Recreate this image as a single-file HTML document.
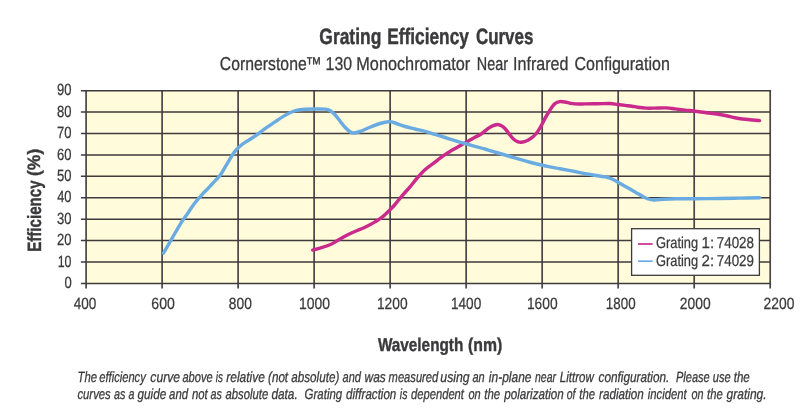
<!DOCTYPE html>
<html><head><meta charset="utf-8"><title>Grating Efficiency Curves</title>
<style>html,body{margin:0;padding:0;background:#fff;}svg{display:block;}text{font-family:"Liberation Sans",sans-serif;fill:#3a393b;text-rendering:geometricPrecision;}</style></head><body>
<svg width="800" height="416" viewBox="0 0 800 416">
<rect x="0" y="0" width="800" height="416" fill="#ffffff"/>
<rect x="86.10" y="90.65" width="684.10" height="192.75" fill="#fffbdb"/>
<path d="M86.10 89.90 V288.60 M162.11 90.65 V288.60 M238.12 90.65 V288.60 M314.13 90.65 V288.60 M390.14 90.65 V288.60 M466.16 90.65 V288.60 M542.17 90.65 V288.60 M618.18 90.65 V288.60 M694.19 90.65 V288.60 M770.20 89.90 V288.60" stroke="#4a4547" stroke-width="1.70" fill="none" stroke-linecap="butt"/>
<path d="M80.90 90.65 H771.05 M80.90 112.07 H770.20 M80.90 133.48 H770.20 M80.90 154.90 H770.20 M80.90 176.32 H770.20 M80.90 197.73 H770.20 M80.90 219.15 H770.20 M80.90 240.57 H770.20 M80.90 261.98 H770.20 M80.90 283.40 H771.05" stroke="#3f3b3d" stroke-width="1.50" fill="none" stroke-linecap="butt"/>
<path d="M312.75 250.10 C313.96 249.77 317.12 248.99 320.00 248.10 C322.88 247.21 327.08 246.00 330.00 244.75 C332.92 243.50 335.00 242.02 337.50 240.60 C340.00 239.18 342.50 237.60 345.00 236.25 C347.50 234.90 350.00 233.64 352.50 232.50 C355.00 231.36 357.50 230.48 360.00 229.40 C362.50 228.32 365.00 227.25 367.50 226.00 C370.00 224.75 372.50 223.42 375.00 221.90 C377.50 220.38 380.00 218.92 382.50 216.90 C385.00 214.88 387.92 211.87 390.00 209.80 C392.08 207.73 393.33 206.42 395.00 204.50 C396.67 202.58 398.33 200.30 400.00 198.30 C401.67 196.30 403.33 194.42 405.00 192.50 C406.67 190.58 408.33 188.77 410.00 186.80 C411.67 184.83 413.33 182.70 415.00 180.70 C416.67 178.70 418.33 176.62 420.00 174.80 C421.67 172.98 423.33 171.30 425.00 169.80 C426.67 168.30 428.33 167.08 430.00 165.80 C431.67 164.52 433.33 163.37 435.00 162.10 C436.67 160.83 438.33 159.45 440.00 158.20 C441.67 156.95 443.33 155.72 445.00 154.60 C446.67 153.48 448.33 152.50 450.00 151.50 C451.67 150.50 453.33 149.57 455.00 148.60 C456.67 147.63 458.33 146.65 460.00 145.70 C461.67 144.75 463.33 143.85 465.00 142.90 C466.67 141.95 468.33 140.93 470.00 140.00 C471.67 139.07 473.33 138.18 475.00 137.30 C476.67 136.42 478.33 135.75 480.00 134.70 C481.67 133.65 483.33 132.23 485.00 131.00 C486.67 129.77 488.33 128.30 490.00 127.30 C491.67 126.30 493.54 125.43 495.00 125.00 C496.46 124.57 497.50 124.48 498.75 124.70 C500.00 124.92 501.25 125.42 502.50 126.30 C503.75 127.18 505.00 128.55 506.25 130.00 C507.50 131.45 508.75 133.45 510.00 135.00 C511.25 136.55 512.50 138.20 513.75 139.30 C515.00 140.40 516.25 141.12 517.50 141.60 C518.75 142.08 519.79 142.30 521.25 142.20 C522.71 142.10 524.58 141.68 526.25 141.00 C527.92 140.32 529.58 139.35 531.25 138.10 C532.92 136.85 534.71 135.35 536.25 133.50 C537.79 131.65 539.04 129.52 540.50 127.00 C541.96 124.48 543.62 120.90 545.00 118.40 C546.38 115.90 547.58 113.90 548.75 112.00 C549.92 110.10 550.96 108.40 552.00 107.00 C553.04 105.60 554.08 104.40 555.00 103.60 C555.92 102.80 556.67 102.53 557.50 102.20 C558.33 101.87 558.75 101.63 560.00 101.60 C561.25 101.57 563.33 101.73 565.00 102.00 C566.67 102.27 568.33 102.88 570.00 103.20 C571.67 103.52 572.50 103.78 575.00 103.90 C577.50 104.02 581.25 103.93 585.00 103.90 C588.75 103.88 593.33 103.82 597.50 103.75 C601.67 103.68 606.67 103.38 610.00 103.50 C613.33 103.62 615.00 104.18 617.50 104.50 C620.00 104.82 622.58 105.12 625.00 105.40 C627.42 105.68 629.92 105.90 632.00 106.20 C634.08 106.50 635.12 106.88 637.50 107.20 C639.88 107.52 643.33 107.95 646.25 108.10 C649.17 108.25 651.67 108.13 655.00 108.10 C658.33 108.07 662.92 107.77 666.25 107.90 C669.58 108.03 671.88 108.53 675.00 108.90 C678.12 109.27 681.67 109.72 685.00 110.10 C688.33 110.48 691.67 110.80 695.00 111.20 C698.33 111.60 701.67 112.08 705.00 112.50 C708.33 112.92 712.08 113.33 715.00 113.75 C717.92 114.17 720.42 114.62 722.50 115.00 C724.58 115.38 725.42 115.54 727.50 116.00 C729.58 116.46 732.50 117.25 735.00 117.75 C737.50 118.25 739.58 118.62 742.50 119.00 C745.42 119.38 749.67 119.73 752.50 120.00 C755.33 120.27 758.33 120.50 759.50 120.60" stroke="#c92a8c" stroke-width="3.45" fill="none" stroke-linecap="round" stroke-linejoin="round"/>
<path d="M163.50 253.10 C164.17 251.96 166.00 248.85 167.50 246.25 C169.00 243.65 170.83 240.39 172.50 237.50 C174.17 234.61 175.83 231.72 177.50 228.90 C179.17 226.08 180.83 223.12 182.50 220.60 C184.17 218.07 186.25 215.55 187.50 213.75 C188.75 211.95 188.75 211.62 190.00 209.80 C191.25 207.98 193.33 204.93 195.00 202.80 C196.67 200.67 198.33 198.90 200.00 197.00 C201.67 195.10 203.33 193.17 205.00 191.40 C206.67 189.63 208.33 188.17 210.00 186.40 C211.67 184.63 213.38 182.57 215.00 180.80 C216.62 179.03 218.25 177.67 219.70 175.80 C221.15 173.93 222.33 171.85 223.70 169.60 C225.07 167.35 226.50 164.65 227.90 162.30 C229.30 159.95 230.83 157.43 232.10 155.50 C233.37 153.57 234.38 152.08 235.50 150.70 C236.62 149.32 237.22 148.58 238.80 147.20 C240.38 145.82 242.72 143.97 245.00 142.40 C247.28 140.83 250.00 139.40 252.50 137.75 C255.00 136.10 257.50 134.31 260.00 132.50 C262.50 130.69 265.00 128.67 267.50 126.90 C270.00 125.13 272.50 123.57 275.00 121.90 C277.50 120.23 280.00 118.43 282.50 116.90 C285.00 115.38 287.71 113.83 290.00 112.75 C292.29 111.67 293.75 110.98 296.25 110.40 C298.75 109.83 301.88 109.53 305.00 109.30 C308.12 109.07 311.67 109.03 315.00 109.00 C318.33 108.97 322.50 108.85 325.00 109.10 C327.50 109.35 328.33 109.56 330.00 110.50 C331.67 111.44 333.33 113.00 335.00 114.75 C336.67 116.50 338.33 118.92 340.00 121.00 C341.67 123.08 343.33 125.46 345.00 127.25 C346.67 129.04 348.54 130.79 350.00 131.75 C351.46 132.71 352.08 133.04 353.75 133.00 C355.42 132.96 357.29 132.46 360.00 131.50 C362.71 130.54 366.67 128.58 370.00 127.25 C373.33 125.92 377.50 124.33 380.00 123.50 C382.50 122.67 383.33 122.62 385.00 122.30 C386.67 121.98 388.33 121.48 390.00 121.60 C391.67 121.72 392.50 122.18 395.00 123.00 C397.50 123.82 401.67 125.50 405.00 126.50 C408.33 127.50 411.67 128.20 415.00 129.00 C418.33 129.80 421.67 130.40 425.00 131.30 C428.33 132.20 431.67 133.37 435.00 134.40 C438.33 135.43 441.67 136.47 445.00 137.50 C448.33 138.53 451.67 139.60 455.00 140.60 C458.33 141.60 461.67 142.55 465.00 143.50 C468.33 144.45 471.67 145.38 475.00 146.30 C478.33 147.22 482.50 148.28 485.00 149.00 C487.50 149.72 487.50 149.85 490.00 150.60 C492.50 151.35 496.67 152.52 500.00 153.50 C503.33 154.48 506.67 155.52 510.00 156.50 C513.33 157.48 516.67 158.44 520.00 159.40 C523.33 160.36 526.67 161.36 530.00 162.25 C533.33 163.14 536.67 163.97 540.00 164.75 C543.33 165.53 546.67 166.23 550.00 166.90 C553.33 167.57 556.67 168.13 560.00 168.75 C563.33 169.37 566.67 169.96 570.00 170.60 C573.33 171.24 577.50 172.07 580.00 172.60 C582.50 173.12 582.50 173.31 585.00 173.75 C587.50 174.19 591.67 174.72 595.00 175.25 C598.33 175.78 602.29 176.32 605.00 176.90 C607.71 177.48 609.17 177.92 611.25 178.75 C613.33 179.58 615.21 180.65 617.50 181.90 C619.79 183.15 622.08 184.58 625.00 186.25 C627.92 187.92 632.08 190.23 635.00 191.90 C637.92 193.57 640.42 195.11 642.50 196.25 C644.58 197.39 645.83 198.14 647.50 198.75 C649.17 199.36 650.42 199.78 652.50 199.90 C654.58 200.03 656.25 199.68 660.00 199.50 C663.75 199.32 669.17 198.93 675.00 198.80 C680.83 198.68 687.50 198.80 695.00 198.75 C702.50 198.70 712.50 198.61 720.00 198.50 C727.50 198.39 733.37 198.23 740.00 198.10 C746.63 197.97 756.50 197.77 759.80 197.70" stroke="#6aace2" stroke-width="3.45" fill="none" stroke-linecap="round" stroke-linejoin="round"/>
<rect x="631.6" y="228.7" width="127.8" height="46.6" fill="#ffffff" stroke="#3f3b3d" stroke-width="1.3"/>
<path d="M638 244 H652.6" stroke="#c92a8c" stroke-width="1.7"/>
<path d="M638 261.2 H652.6" stroke="#6aace2" stroke-width="1.7"/>
<g opacity="0.999">
<text transform="translate(319.32 43.70) scale(0.7818 1)" font-size="22.30" font-weight="bold" font-style="normal" stroke="#3a393b" stroke-width="0.45">Grating</text>
<text transform="translate(387.24 43.70) scale(0.7749 1)" font-size="22.30" font-weight="bold" font-style="normal" stroke="#3a393b" stroke-width="0.45">Efficiency</text>
<text transform="translate(475.94 43.70) scale(0.7593 1)" font-size="22.30" font-weight="bold" font-style="normal" stroke="#3a393b" stroke-width="0.45">Curves</text>
<text transform="translate(219.85 70.20) scale(0.8488 1)" font-size="18.60" font-weight="normal" font-style="normal" stroke="#3a393b" stroke-width="0.30">Cornerstone</text>
<text transform="translate(305.48 70.20) scale(0.8678 1)" font-size="18.60" font-weight="normal" font-style="normal" stroke="#3a393b" stroke-width="0.30">™</text>
<text transform="translate(325.62 70.20) scale(0.8522 1)" font-size="18.60" font-weight="normal" font-style="normal" stroke="#3a393b" stroke-width="0.30">130</text>
<text transform="translate(356.29 70.20) scale(0.8747 1)" font-size="18.60" font-weight="normal" font-style="normal" stroke="#3a393b" stroke-width="0.30">Monochromator</text>
<text transform="translate(476.84 70.20) scale(0.7740 1)" font-size="18.60" font-weight="normal" font-style="normal" stroke="#3a393b" stroke-width="0.30">Near</text>
<text transform="translate(513.09 70.20) scale(0.8637 1)" font-size="18.60" font-weight="normal" font-style="normal" stroke="#3a393b" stroke-width="0.30">Infrared</text>
<text transform="translate(574.54 70.20) scale(0.8618 1)" font-size="18.60" font-weight="normal" font-style="normal" stroke="#3a393b" stroke-width="0.30">Configuration</text>
<text transform="translate(377.90 350.50) scale(0.8284 1)" font-size="18.50" font-weight="bold" font-style="normal" stroke="#3a393b" stroke-width="0.40">Wavelength</text>
<text transform="translate(468.05 350.50) scale(0.8549 1)" font-size="18.50" font-weight="bold" font-style="normal" stroke="#3a393b" stroke-width="0.40">(nm)</text>
<text transform="translate(41.00 251.78) rotate(-90) scale(0.7877 1)" font-size="19.20" font-weight="bold" font-style="normal" stroke="#3a393b" stroke-width="0.40">Efficiency</text>
<text transform="translate(40.30 175.98) rotate(-90) scale(0.9786 1)" font-size="17.86" font-weight="bold" font-style="normal" stroke="#3a393b" stroke-width="0.40">(%)</text>
<text transform="translate(655.99 248.45) scale(0.8140 1)" font-size="15.80" font-weight="normal" font-style="normal" stroke="#3a393b" stroke-width="0.25">Grating</text>
<text transform="translate(701.61 248.45) scale(0.9524 1)" font-size="15.80" font-weight="normal" font-style="normal" stroke="#3a393b" stroke-width="0.25">1:</text>
<text transform="translate(716.76 248.45) scale(0.8471 1)" font-size="15.80" font-weight="normal" font-style="normal" stroke="#3a393b" stroke-width="0.25">74028</text>
<text transform="translate(655.99 265.65) scale(0.8140 1)" font-size="15.80" font-weight="normal" font-style="normal" stroke="#3a393b" stroke-width="0.25">Grating</text>
<text transform="translate(701.58 265.65) scale(0.9545 1)" font-size="15.80" font-weight="normal" font-style="normal" stroke="#3a393b" stroke-width="0.25">2:</text>
<text transform="translate(716.76 265.65) scale(0.8471 1)" font-size="15.80" font-weight="normal" font-style="normal" stroke="#3a393b" stroke-width="0.25">74029</text>
<text transform="translate(57.00 95.35) scale(0.8000 1)" font-size="16.30" font-weight="normal" font-style="normal" stroke="#3a393b" stroke-width="0.25">90</text>
<text transform="translate(57.00 116.77) scale(0.8000 1)" font-size="16.30" font-weight="normal" font-style="normal" stroke="#3a393b" stroke-width="0.25">80</text>
<text transform="translate(57.00 138.18) scale(0.8000 1)" font-size="16.30" font-weight="normal" font-style="normal" stroke="#3a393b" stroke-width="0.25">70</text>
<text transform="translate(57.00 159.60) scale(0.8000 1)" font-size="16.30" font-weight="normal" font-style="normal" stroke="#3a393b" stroke-width="0.25">60</text>
<text transform="translate(57.00 181.02) scale(0.8000 1)" font-size="16.30" font-weight="normal" font-style="normal" stroke="#3a393b" stroke-width="0.25">50</text>
<text transform="translate(57.21 202.43) scale(0.7882 1)" font-size="16.30" font-weight="normal" font-style="normal" stroke="#3a393b" stroke-width="0.25">40</text>
<text transform="translate(57.00 223.85) scale(0.8000 1)" font-size="16.30" font-weight="normal" font-style="normal" stroke="#3a393b" stroke-width="0.25">30</text>
<text transform="translate(57.00 245.27) scale(0.8000 1)" font-size="16.30" font-weight="normal" font-style="normal" stroke="#3a393b" stroke-width="0.25">20</text>
<text transform="translate(57.65 266.68) scale(0.7631 1)" font-size="16.30" font-weight="normal" font-style="normal" stroke="#3a393b" stroke-width="0.25">10</text>
<text transform="translate(64.40 288.10) scale(0.8000 1)" font-size="16.30" font-weight="normal" font-style="normal" stroke="#3a393b" stroke-width="0.25">0</text>
<text transform="translate(73.78 309.10) scale(0.8308 1)" font-size="16.30" font-weight="normal" font-style="normal" stroke="#3a393b" stroke-width="0.25">400</text>
<text transform="translate(151.35 309.10) scale(0.8641 1)" font-size="16.30" font-weight="normal" font-style="normal" stroke="#3a393b" stroke-width="0.25">600</text>
<text transform="translate(228.87 309.10) scale(0.8447 1)" font-size="16.30" font-weight="normal" font-style="normal" stroke="#3a393b" stroke-width="0.25">800</text>
<text transform="translate(298.93 309.10) scale(0.8540 1)" font-size="16.30" font-weight="normal" font-style="normal" stroke="#3a393b" stroke-width="0.25">1000</text>
<text transform="translate(376.94 309.10) scale(0.8467 1)" font-size="16.30" font-weight="normal" font-style="normal" stroke="#3a393b" stroke-width="0.25">1200</text>
<text transform="translate(450.96 309.10) scale(0.8350 1)" font-size="16.30" font-weight="normal" font-style="normal" stroke="#3a393b" stroke-width="0.25">1400</text>
<text transform="translate(526.94 309.10) scale(0.8467 1)" font-size="16.30" font-weight="normal" font-style="normal" stroke="#3a393b" stroke-width="0.25">1600</text>
<text transform="translate(605.87 309.10) scale(0.8204 1)" font-size="16.30" font-weight="normal" font-style="normal" stroke="#3a393b" stroke-width="0.25">1800</text>
<text transform="translate(679.86 309.10) scale(0.8489 1)" font-size="16.30" font-weight="normal" font-style="normal" stroke="#3a393b" stroke-width="0.25">2000</text>
<text transform="translate(763.61 309.10) scale(0.8489 1)" font-size="16.30" font-weight="normal" font-style="normal" stroke="#3a393b" stroke-width="0.25">2200</text>
<text transform="translate(77.55 382.00) scale(0.7660 1)" font-size="14.80" font-weight="normal" font-style="italic" stroke="#3a393b" stroke-width="0.30">The</text>
<text transform="translate(99.32 382.00) scale(0.7530 1)" font-size="14.80" font-weight="normal" font-style="italic" stroke="#3a393b" stroke-width="0.30">efficiency</text>
<text transform="translate(150.29 382.00) scale(0.8229 1)" font-size="14.80" font-weight="normal" font-style="italic" stroke="#3a393b" stroke-width="0.30">curve</text>
<text transform="translate(182.41 382.00) scale(0.7494 1)" font-size="14.80" font-weight="normal" font-style="italic" stroke="#3a393b" stroke-width="0.30">above</text>
<text transform="translate(215.83 382.00) scale(0.6700 1)" font-size="14.80" font-weight="normal" font-style="italic" stroke="#3a393b" stroke-width="0.30">is</text>
<text transform="translate(226.30 382.00) scale(0.8085 1)" font-size="14.80" font-weight="normal" font-style="italic" stroke="#3a393b" stroke-width="0.30">relative</text>
<text transform="translate(268.01 382.00) scale(0.7881 1)" font-size="14.80" font-weight="normal" font-style="italic" stroke="#3a393b" stroke-width="0.30">(not</text>
<text transform="translate(291.30 382.00) scale(0.7883 1)" font-size="14.80" font-weight="normal" font-style="italic" stroke="#3a393b" stroke-width="0.30">absolute)</text>
<text transform="translate(342.51 382.00) scale(0.7475 1)" font-size="14.80" font-weight="normal" font-style="italic" stroke="#3a393b" stroke-width="0.30">and</text>
<text transform="translate(364.59 382.00) scale(0.8079 1)" font-size="14.80" font-weight="normal" font-style="italic" stroke="#3a393b" stroke-width="0.30">was</text>
<text transform="translate(388.61 382.00) scale(0.7545 1)" font-size="14.80" font-weight="normal" font-style="italic" stroke="#3a393b" stroke-width="0.30">measured</text>
<text transform="translate(440.28 382.00) scale(0.8319 1)" font-size="14.80" font-weight="normal" font-style="italic" stroke="#3a393b" stroke-width="0.30">using</text>
<text transform="translate(472.51 382.00) scale(0.7419 1)" font-size="14.80" font-weight="normal" font-style="italic" stroke="#3a393b" stroke-width="0.30">an</text>
<text transform="translate(488.80 382.00) scale(0.8116 1)" font-size="14.80" font-weight="normal" font-style="italic" stroke="#3a393b" stroke-width="0.30">in-plane</text>
<text transform="translate(535.02 382.00) scale(0.7059 1)" font-size="14.80" font-weight="normal" font-style="italic" stroke="#3a393b" stroke-width="0.30">near</text>
<text transform="translate(559.86 382.00) scale(0.7783 1)" font-size="14.80" font-weight="normal" font-style="italic" stroke="#3a393b" stroke-width="0.30">Littrow</text>
<text transform="translate(598.50 382.00) scale(0.7965 1)" font-size="14.80" font-weight="normal" font-style="italic" stroke="#3a393b" stroke-width="0.30">configuration.</text>
<text transform="translate(675.93 382.00) scale(0.7458 1)" font-size="14.80" font-weight="normal" font-style="italic" stroke="#3a393b" stroke-width="0.30">Please</text>
<text transform="translate(712.74 382.00) scale(0.7511 1)" font-size="14.80" font-weight="normal" font-style="italic" stroke="#3a393b" stroke-width="0.30">use</text>
<text transform="translate(733.72 382.00) scale(0.7792 1)" font-size="14.80" font-weight="normal" font-style="italic" stroke="#3a393b" stroke-width="0.30">the</text>
<text transform="translate(77.42 399.00) scale(0.7649 1)" font-size="14.80" font-weight="normal" font-style="italic" stroke="#3a393b" stroke-width="0.30">curves</text>
<text transform="translate(114.07 399.00) scale(0.7300 1)" font-size="14.80" font-weight="normal" font-style="italic" stroke="#3a393b" stroke-width="0.30">as</text>
<text transform="translate(128.62 399.00) scale(0.7200 1)" font-size="14.80" font-weight="normal" font-style="italic" stroke="#3a393b" stroke-width="0.30">a</text>
<text transform="translate(137.50 399.00) scale(0.7972 1)" font-size="14.80" font-weight="normal" font-style="italic" stroke="#3a393b" stroke-width="0.30">guide</text>
<text transform="translate(169.11 399.00) scale(0.7717 1)" font-size="14.80" font-weight="normal" font-style="italic" stroke="#3a393b" stroke-width="0.30">and</text>
<text transform="translate(192.01 399.00) scale(0.7663 1)" font-size="14.80" font-weight="normal" font-style="italic" stroke="#3a393b" stroke-width="0.30">not</text>
<text transform="translate(210.52 399.00) scale(0.7267 1)" font-size="14.80" font-weight="normal" font-style="italic" stroke="#3a393b" stroke-width="0.30">as</text>
<text transform="translate(225.51 399.00) scale(0.7636 1)" font-size="14.80" font-weight="normal" font-style="italic" stroke="#3a393b" stroke-width="0.30">absolute</text>
<text transform="translate(271.40 399.00) scale(0.8000 1)" font-size="14.80" font-weight="normal" font-style="italic" stroke="#3a393b" stroke-width="0.30">data.</text>
<text transform="translate(304.62 399.00) scale(0.7747 1)" font-size="14.80" font-weight="normal" font-style="italic" stroke="#3a393b" stroke-width="0.30">Grating</text>
<text transform="translate(346.11 399.00) scale(0.7825 1)" font-size="14.80" font-weight="normal" font-style="italic" stroke="#3a393b" stroke-width="0.30">diffraction</text>
<text transform="translate(399.82 399.00) scale(0.7200 1)" font-size="14.80" font-weight="normal" font-style="italic" stroke="#3a393b" stroke-width="0.30">is</text>
<text transform="translate(410.92 399.00) scale(0.7586 1)" font-size="14.80" font-weight="normal" font-style="italic" stroke="#3a393b" stroke-width="0.30">dependent</text>
<text transform="translate(468.43 399.00) scale(0.7475 1)" font-size="14.80" font-weight="normal" font-style="italic" stroke="#3a393b" stroke-width="0.30">on</text>
<text transform="translate(484.22 399.00) scale(0.7740 1)" font-size="14.80" font-weight="normal" font-style="italic" stroke="#3a393b" stroke-width="0.30">the</text>
<text transform="translate(504.20 399.00) scale(0.7874 1)" font-size="14.80" font-weight="normal" font-style="italic" stroke="#3a393b" stroke-width="0.30">polarization</text>
<text transform="translate(566.65 399.00) scale(0.7077 1)" font-size="14.80" font-weight="normal" font-style="italic" stroke="#3a393b" stroke-width="0.30">of</text>
<text transform="translate(579.22 399.00) scale(0.7688 1)" font-size="14.80" font-weight="normal" font-style="italic" stroke="#3a393b" stroke-width="0.30">the</text>
<text transform="translate(599.00 399.00) scale(0.7892 1)" font-size="14.80" font-weight="normal" font-style="italic" stroke="#3a393b" stroke-width="0.30">radiation</text>
<text transform="translate(647.71 399.00) scale(0.7629 1)" font-size="14.80" font-weight="normal" font-style="italic" stroke="#3a393b" stroke-width="0.30">incident</text>
<text transform="translate(691.43 399.00) scale(0.7344 1)" font-size="14.80" font-weight="normal" font-style="italic" stroke="#3a393b" stroke-width="0.30">on</text>
<text transform="translate(707.03 399.00) scale(0.7584 1)" font-size="14.80" font-weight="normal" font-style="italic" stroke="#3a393b" stroke-width="0.30">the</text>
<text transform="translate(726.60 399.00) scale(0.8105 1)" font-size="14.80" font-weight="normal" font-style="italic" stroke="#3a393b" stroke-width="0.30">grating.</text>
</g>
</svg></body></html>
